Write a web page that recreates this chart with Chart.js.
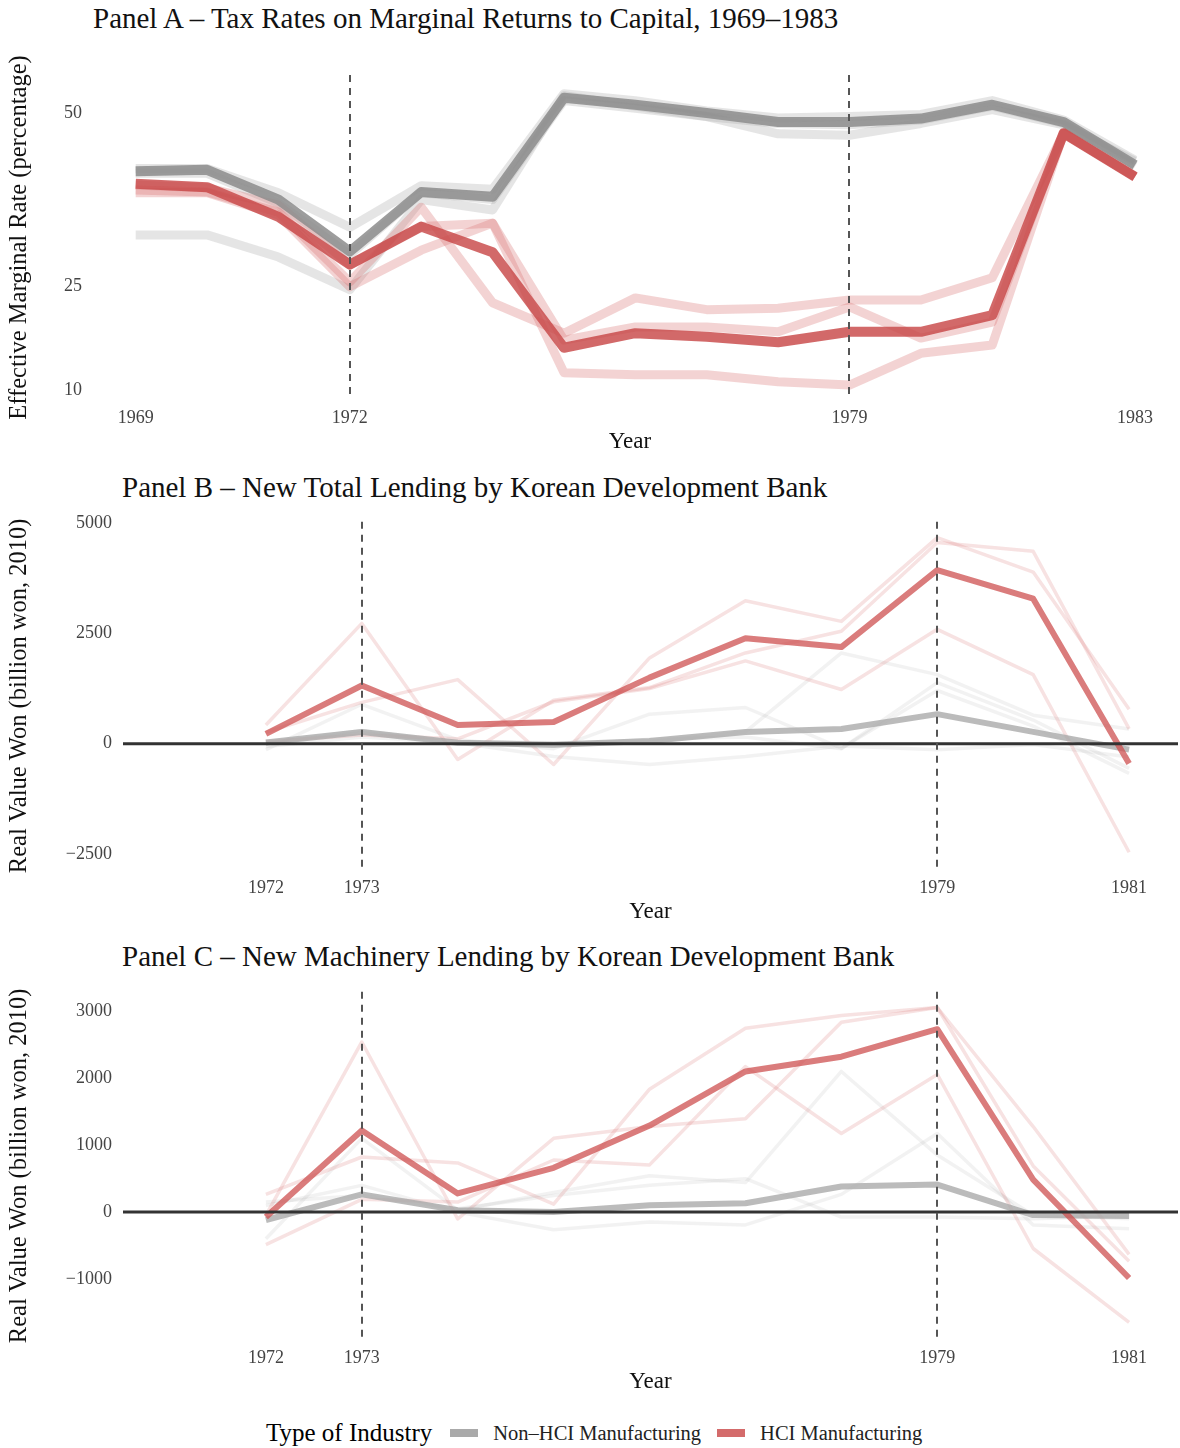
<!DOCTYPE html>
<html>
<head>
<meta charset="utf-8">
<script src="https://cdn.jsdelivr.net/npm/chart.js@4.4.1/dist/chart.umd.min.js"></script>
<style>
  body { margin: 0; background: #fff; font-family: "Liberation Serif", serif; }
  #page { position: relative; width: 1180px; height: 1448px; }
  .ttl { position: absolute; font-size: 29px; color: #111; white-space: nowrap; }
  .box { position: absolute; left: 0; width: 1180px; }
  #legend { position: absolute; left: 266px; top: 1419px; display: flex; align-items: center; white-space: nowrap; }
  #legend .head { font-size: 25px; margin-right: 18px; }
  #legend .sw { width: 28px; height: 8px; margin-right: 15px; }
  #legend .lab { font-size: 20.5px; margin-right: 16px; color: #222; }
</style>
</head>
<body>
<div id="page">
  <div class="ttl" style="left:93px; top:2px">Panel A – Tax Rates on Marginal Returns to Capital, 1969–1983</div>
  <div class="box" style="top:50px"><canvas id="chartA" width="1180" height="410"></canvas></div>
  <div class="ttl" style="left:122px; top:471px">Panel B – New Total Lending by Korean Development Bank</div>
  <div class="box" style="top:500px"><canvas id="chartB" width="1180" height="430"></canvas></div>
  <div class="ttl" style="left:122px; top:940px">Panel C – New Machinery Lending by Korean Development Bank</div>
  <div class="box" style="top:970px"><canvas id="chartC" width="1180" height="430"></canvas></div>
  <div id="legend">
    <span class="head">Type of Industry</span>
    <span class="sw" style="background:#aaaaaa"></span><span class="lab">Non–HCI Manufacturing</span>
    <span class="sw" style="background:#d46b6b"></span><span class="lab">HCI Manufacturing</span>
  </div>
</div>
<script>
// Panel A: effective marginal tax rates (percent)
var yearsA = [1969, 1970, 1971, 1972, 1973, 1974, 1975, 1976, 1977, 1978, 1979, 1980, 1981, 1982, 1983];
var xTicksA = [1969, 1972, 1979, 1983];
var yTicksA = [10, 25, 50];
var markYearsA = [1972, 1979];
var hciMeanA = [39.8, 39.3, 35.0, 28.1, 33.6, 29.9, 16.1, 18.2, 17.7, 16.9, 18.4, 18.4, 20.8, 47.1, 40.8];
var nonHciMeanA = [41.6, 41.8, 37.5, 30.0, 38.6, 37.9, 52.2, 51.2, 50.0, 48.7, 48.7, 49.2, 51.2, 48.7, 42.5];
var hciIndA = [
    [38.9, 38.6, 35.7, 25.6, 36.4, 22.6, 18.2, 23.3, 21.6, 21.8, 23.0, 23.0, 26.2, 47.1, 40.8],
    [39.6, 39.2, 36.7, 28.1, 33.6, 34.1, 17.2, 19.1, 19.1, 18.4, 22.0, 17.5, 19.8, 47.1, 40.8],
    [38.5, 38.5, 35.3, 24.9, 30.2, 34.1, 12.5, 12.2, 12.2, 11.2, 10.7, 15.3, 16.5, 47.1, 40.8]
];
var nonHciIndA = [
    [32.4, 32.4, 29.2, 24.5, 37.5, 36.0, 52.5, 51.0, 49.5, 47.0, 46.8, 48.5, 50.5, 48.3, 43.0],
    [42.0, 42.0, 38.5, 33.5, 39.5, 39.0, 52.8, 51.8, 50.3, 49.3, 49.5, 49.8, 51.8, 49.0, 43.2],
    [41.3, 41.3, 37.0, 29.5, 38.5, 37.5, 51.8, 50.7, 49.5, 48.5, 48.3, 49.0, 51.0, 48.5, 42.3]
];

// Panels B and C: new KDB lending, billion won (2010)
var yearsBC = [1972, 1973, 1974, 1975, 1976, 1977, 1978, 1979, 1980, 1981];
var xTicksBC = [1972, 1973, 1979, 1981];
var markYearsBC = [1973, 1979];
var yTicksB = [-2500, 0, 2500, 5000];
var hciMeanB = [223, 1317, 424, 491, 1496, 2388, 2188, 3929, 3281, -446];
var nonHciMeanB = [30, 268, 22, -22, 60, 268, 335, 670, 268, -134];
var hciIndB = [
    [424, 2723, -357, 982, 1272, 2054, 2545, 4554, 4353, 335],
    [260, 937, 1451, -469, 1942, 3237, 2768, 4665, 3884, 781],
    [50, 200, 112, 950, 1250, 1875, 1228, 2589, 1563, -2455]
];
var nonHciIndB = [
    [-134, 893, 89, -112, 670, 820, -100, 1205, 400, -670],
    [-60, 150, 20, -290, -470, -290, -50, -134, -20, -300],
    [30, 250, 50, 20, 45, 268, 2054, 1563, 647, 335],
    [0, 300, 0, -50, 100, 150, -112, 1384, 536, -558]
];

var yTicksC = [-1000, 0, 1000, 2000, 3000];
var hciMeanC = [-74, 1221, 279, 662, 1294, 2103, 2324, 2735, 485, -985];
var nonHciMeanC = [-118, 265, 29, 0, 103, 132, 382, 412, -44, -59];
var hciIndC = [
    [-50, 2544, -103, 1103, 1279, 1397, 2838, 3059, 691, -735],
    [265, 824, 735, 118, 1838, 2750, 2941, 3059, 1279, -632],
    [-485, 191, 150, 779, 706, 2176, 1176, 2059, -544, -1647]
];
var nonHciIndC = [
    [-397, 1103, 30, 294, 544, 441, 2103, 853, -44, -100],
    [100, 400, 0, -265, -147, -191, 265, 1176, -191, -250],
    [150, 250, 50, 250, 400, 500, -74, -74, -100, -59]
];

var FONT = "Liberation Serif";

// dashed policy-year markers and the zero line, drawn over the series
var refLines = {
    id: 'refLines',
    afterDatasetsDraw: function(chart, args, opts) {
        var ctx = chart.ctx, area = chart.chartArea, sx = chart.scales.x, sy = chart.scales.y;
        ctx.save();
        if (opts.zero) {
            var y0 = sy.getPixelForValue(0);
            ctx.strokeStyle = '#333';
            ctx.lineWidth = 3;
            ctx.beginPath();
            ctx.moveTo(area.left, y0);
            ctx.lineTo(area.right, y0);
            ctx.stroke();
        }
        ctx.strokeStyle = '#555';
        ctx.lineWidth = 2;
        ctx.setLineDash([7, 6]);
        (opts.years || []).forEach(function(yr) {
            var x = Math.round(sx.getPixelForValue(yr));
            ctx.beginPath();
            ctx.moveTo(x, area.top);
            ctx.lineTo(x, area.bottom);
            ctx.stroke();
        });
        ctx.restore();
    }
};

function pts(years, vals) {
    return vals.map(function(v, i) { return { x: years[i], y: v }; });
}

function buildSets(years, hciMean, nonHciMean, hciInd, nonHciInd, st) {
    var sets = [];
    sets.push({ data: pts(years, hciMean), borderColor: st.red, borderWidth: st.thick, order: 0 });
    sets.push({ data: pts(years, nonHciMean), borderColor: st.gray, borderWidth: st.thick, order: 1 });
    hciInd.forEach(function(v) {
        sets.push({ data: pts(years, v), borderColor: st.pink, borderWidth: st.thin, order: 2 });
    });
    nonHciInd.forEach(function(v) {
        sets.push({ data: pts(years, v), borderColor: st.lightGray, borderWidth: st.thin, order: 3 });
    });
    return sets;
}

function makeChart(id, cfg) {
    var ctx = document.getElementById(id).getContext('2d');
    return new Chart(ctx, {
        type: 'line',
        data: { datasets: cfg.sets },
        options: {
            responsive: false,
            animation: false,
            devicePixelRatio: 1,
            layout: { padding: { top: cfg.padTop, right: cfg.padRight, bottom: 0, left: 0 } },
            elements: {
                point: { radius: 0 },
                line: { tension: 0, borderJoinStyle: 'round', borderCapStyle: 'butt', fill: false }
            },
            plugins: {
                legend: { display: false },
                tooltip: { enabled: false },
                refLines: { years: cfg.marks, zero: cfg.zero }
            },
            scales: {
                x: {
                    type: 'linear',
                    min: cfg.xMin, max: cfg.xMax,
                    grid: { display: false, drawTicks: false },
                    border: { display: false },
                    afterBuildTicks: function(axis) { axis.ticks = cfg.xTicks.map(function(v) { return { value: v }; }); },
                    afterFit: function(axis) { axis.height = 60; },
                    ticks: {
                        padding: 7, color: '#444', maxRotation: 0, autoSkip: false,
                        font: { family: FONT, size: 18 },
                        callback: function(v) { return String(v); }
                    },
                    title: { display: true, text: 'Year', color: '#111', font: { family: FONT, size: 23 }, padding: { top: 4, bottom: 4 } }
                },
                y: {
                    min: cfg.yMin, max: cfg.yMax,
                    grid: { display: false, drawTicks: false },
                    border: { display: false },
                    afterBuildTicks: function(axis) { axis.ticks = cfg.yTicks.map(function(v) { return { value: v }; }); },
                    afterFit: function(axis) { axis.width = cfg.yWidth; },
                    ticks: {
                        padding: cfg.yPad, color: '#444', autoSkip: false,
                        font: { family: FONT, size: 18 },
                        callback: function(v) { return v < 0 ? '\u2212' + Math.abs(v) : String(v); }
                    },
                    title: { display: true, text: cfg.yTitle, color: '#111', font: { family: FONT, size: 24.5 }, padding: { top: 5, bottom: 0 } }
                }
            }
        },
        plugins: [refLines]
    });
}

var styleA = { red: 'rgba(200,72,72,0.82)', gray: 'rgba(140,140,140,0.85)', pink: 'rgba(215,110,110,0.3)', lightGray: 'rgba(170,170,170,0.3)', thick: 10, thin: 9 };
var styleBC = { red: 'rgba(205,80,80,0.75)', gray: 'rgba(170,170,170,0.8)', pink: 'rgba(215,110,110,0.2)', lightGray: 'rgba(170,170,170,0.15)', thick: 6, thin: 3.5 };

makeChart('chartA', {
    sets: buildSets(yearsA, hciMeanA, nonHciMeanA, hciIndA, nonHciIndA, styleA),
    xMin: 1968.36, xMax: 1983.49, xTicks: xTicksA,
    yMin: 8.55, yMax: 55.5, yTicks: yTicksA,
    yWidth: 90, yPad: 8, padTop: 25, padRight: 10,
    marks: markYearsA, zero: false,
    yTitle: 'Effective Marginal Rate (percentage)'
});

makeChart('chartB', {
    sets: buildSets(yearsBC, hciMeanB, nonHciMeanB, hciIndB, nonHciIndB, styleBC),
    xMin: 1970.51, xMax: 1981.51, xTicks: xTicksBC,
    yMin: -2857, yMax: 5022, yTicks: yTicksB,
    yWidth: 123, yPad: 11, padTop: 17, padRight: 2,
    marks: markYearsBC, zero: true,
    yTitle: 'Real Value Won (billion won, 2010)'
});

makeChart('chartC', {
    sets: buildSets(yearsBC, hciMeanC, nonHciMeanC, hciIndC, nonHciIndC, styleBC),
    xMin: 1970.51, xMax: 1981.51, xTicks: xTicksBC,
    yMin: -1912, yMax: 3294, yTicks: yTicksC,
    yWidth: 123, yPad: 11, padTop: 16, padRight: 2,
    marks: markYearsBC, zero: true,
    yTitle: 'Real Value Won (billion won, 2010)'
});
</script>
</body>
</html>
